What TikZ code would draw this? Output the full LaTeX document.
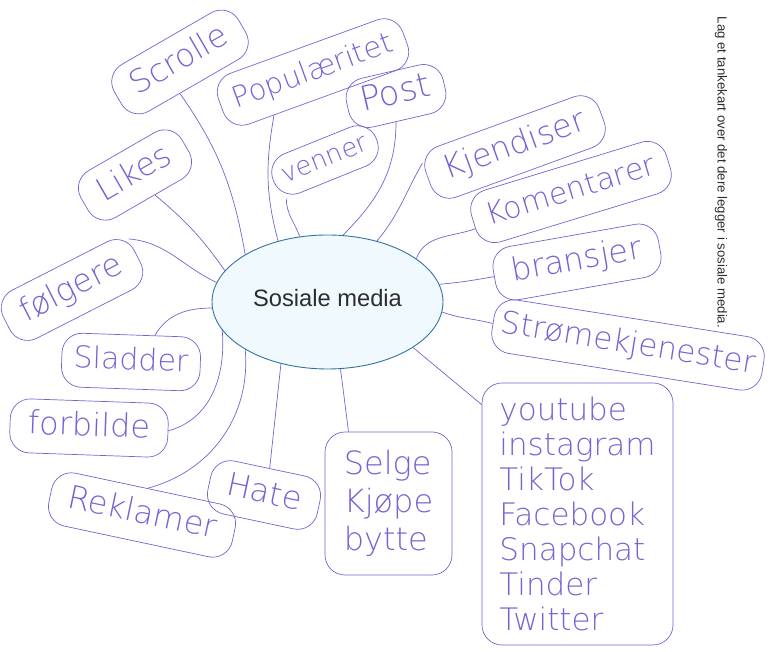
\documentclass[tikz,border=0pt]{standalone}
\usepackage{fontspec}
\setmainfont{Liberation Sans}
\newfontfamily\handfont{DejaVu Sans}[UprightFont={* ExtraLight}]
\usetikzlibrary{shapes.geometric}
\definecolor{ink}{RGB}{115,100,210}
\definecolor{bubble}{RGB}{240,249,253}
\definecolor{rim}{RGB}{50,115,160}
\definecolor{print}{RGB}{45,45,45}

\begin{document}
\begin{tikzpicture}[x=1pt, y=1pt,
        idea/.style={draw=ink, text=ink, line width=0.7pt, rounded corners=20pt,
            inner xsep=18pt, inner ysep=12pt, font=\handfont\fontsize{32}{38}\selectfont},
        word/.style={idea, text height=23pt, text depth=7pt},
        twig/.style={draw=ink, line width=0.7pt}]
    \useasboundingbox (0,0) rectangle (772,652);

    \node[ellipse, draw=rim, fill=bubble, line width=0.9pt, minimum width=231pt, minimum height=134pt,
        text=print, text depth=9pt, font=\fontsize{23.7}{28}\selectfont] (sm) at (327.5,350) {Sosiale media};
    \node[rotate=-90, text=print, font=\fontsize{13.2}{16}\selectfont] (task) at (721,479.5)
        {Lag et tankekart over det dere legger i sosiale media.};

    \node[word, rotate=30] (scr) at (180,590) {Scrolle};
    \node[word, rotate=20, inner xsep=14pt, font=\handfont\fontsize{29}{34}\selectfont] (pop) at (313,580) {Populæritet};
    \node[word, rotate=13, inner xsep=14pt, inner ysep=10pt, font=\handfont\fontsize{34}{40}\selectfont] (post) at (396,556) {Post};
    \node[word, rotate=22, inner xsep=10pt, inner ysep=9pt, text height=19pt, text depth=5pt,
        font=\handfont\fontsize{26}{30}\selectfont] (ven) at (325,492) {venner};
    \node[word, rotate=30] (lik) at (135,477) {Likes};
    \node[word, rotate=27] (fol) at (72,362) {følgere};
    \node[word, rotate=20] (kje) at (515,505) {Kjendiser};
    \node[word, rotate=17, inner xsep=14pt, font=\handfont\fontsize{30}{36}\selectfont] (kom) at (571,460) {Komentarer};
    \node[word, rotate=10] (bra) at (577,390) {bransjer};
    \node[word, rotate=-9, inner xsep=8pt, font=\handfont\fontsize{31}{36}\selectfont] (str) at (628,307) {Strømekjenester};
    \node[word, rotate=-2, inner xsep=12pt, font=\handfont\fontsize{30}{36}\selectfont] (sla) at (131,290) {Sladder};
    \node[word, rotate=-2] (forb) at (89,224) {forbilde};
    \node[word, rotate=-12] (rek) at (142,137) {Reklamer};
    \node[word, rotate=-12] (hat) at (264,157) {Hate};

    \node[idea, align=left, minimum width=127pt, minimum height=143pt] (sel) at (388.5,148.5)
        {Selge\\Kjøpe\\bytte};
    \node[idea, align=left, minimum width=191pt, minimum height=262pt, inner xsep=10pt,
        font=\handfont\fontsize{31}{35}\selectfont] (apps) at (577.5,138)
        {youtube\\instagram\\TikTok\\Facebook\\Snapchat\\Tinder\\Twitter};

    \draw[twig] (scr.-120) to[out=-55,in=100] (sm.150);
    \draw[twig] (pop.208) to[out=-100,in=105] (sm.129);
    \draw[twig] (ven.203) to[out=-90,in=110] (sm.113);
    \draw[twig] (post.-103) to[out=-90,in=45] (sm.77);
    \draw[twig] (kje.170) to[out=240,in=50] (sm.51);
    \draw[twig] (kom.184) to[out=200,in=70] (sm.26);
    \draw[twig] (bra.west) to[out=190,in=5] (sm.9);
    \draw[twig] (str.west) to[out=165,in=-20] (sm.355);
    \draw[twig] ([yshift=-22pt]apps.north west) to[out=140,in=-40] (sm.332);
    \draw[twig] ([xshift=-40pt]sel.north) -- (sm.281);
    \draw[twig] (hat.north) -- (sm.233);
    \draw[twig] (rek.north) to[out=15,in=-85] (sm.210);
    \draw[twig] (forb.east) to[out=15,in=-85] (sm.195);
    \draw[twig] (sla.50) to[out=60,in=180] (sm.183);
    \draw[twig] (fol.15) to[out=-5,in=155] (sm.170);
    \draw[twig] (lik.-75) to[out=-40,in=125] (sm.163);
\end{tikzpicture}
\end{document}
